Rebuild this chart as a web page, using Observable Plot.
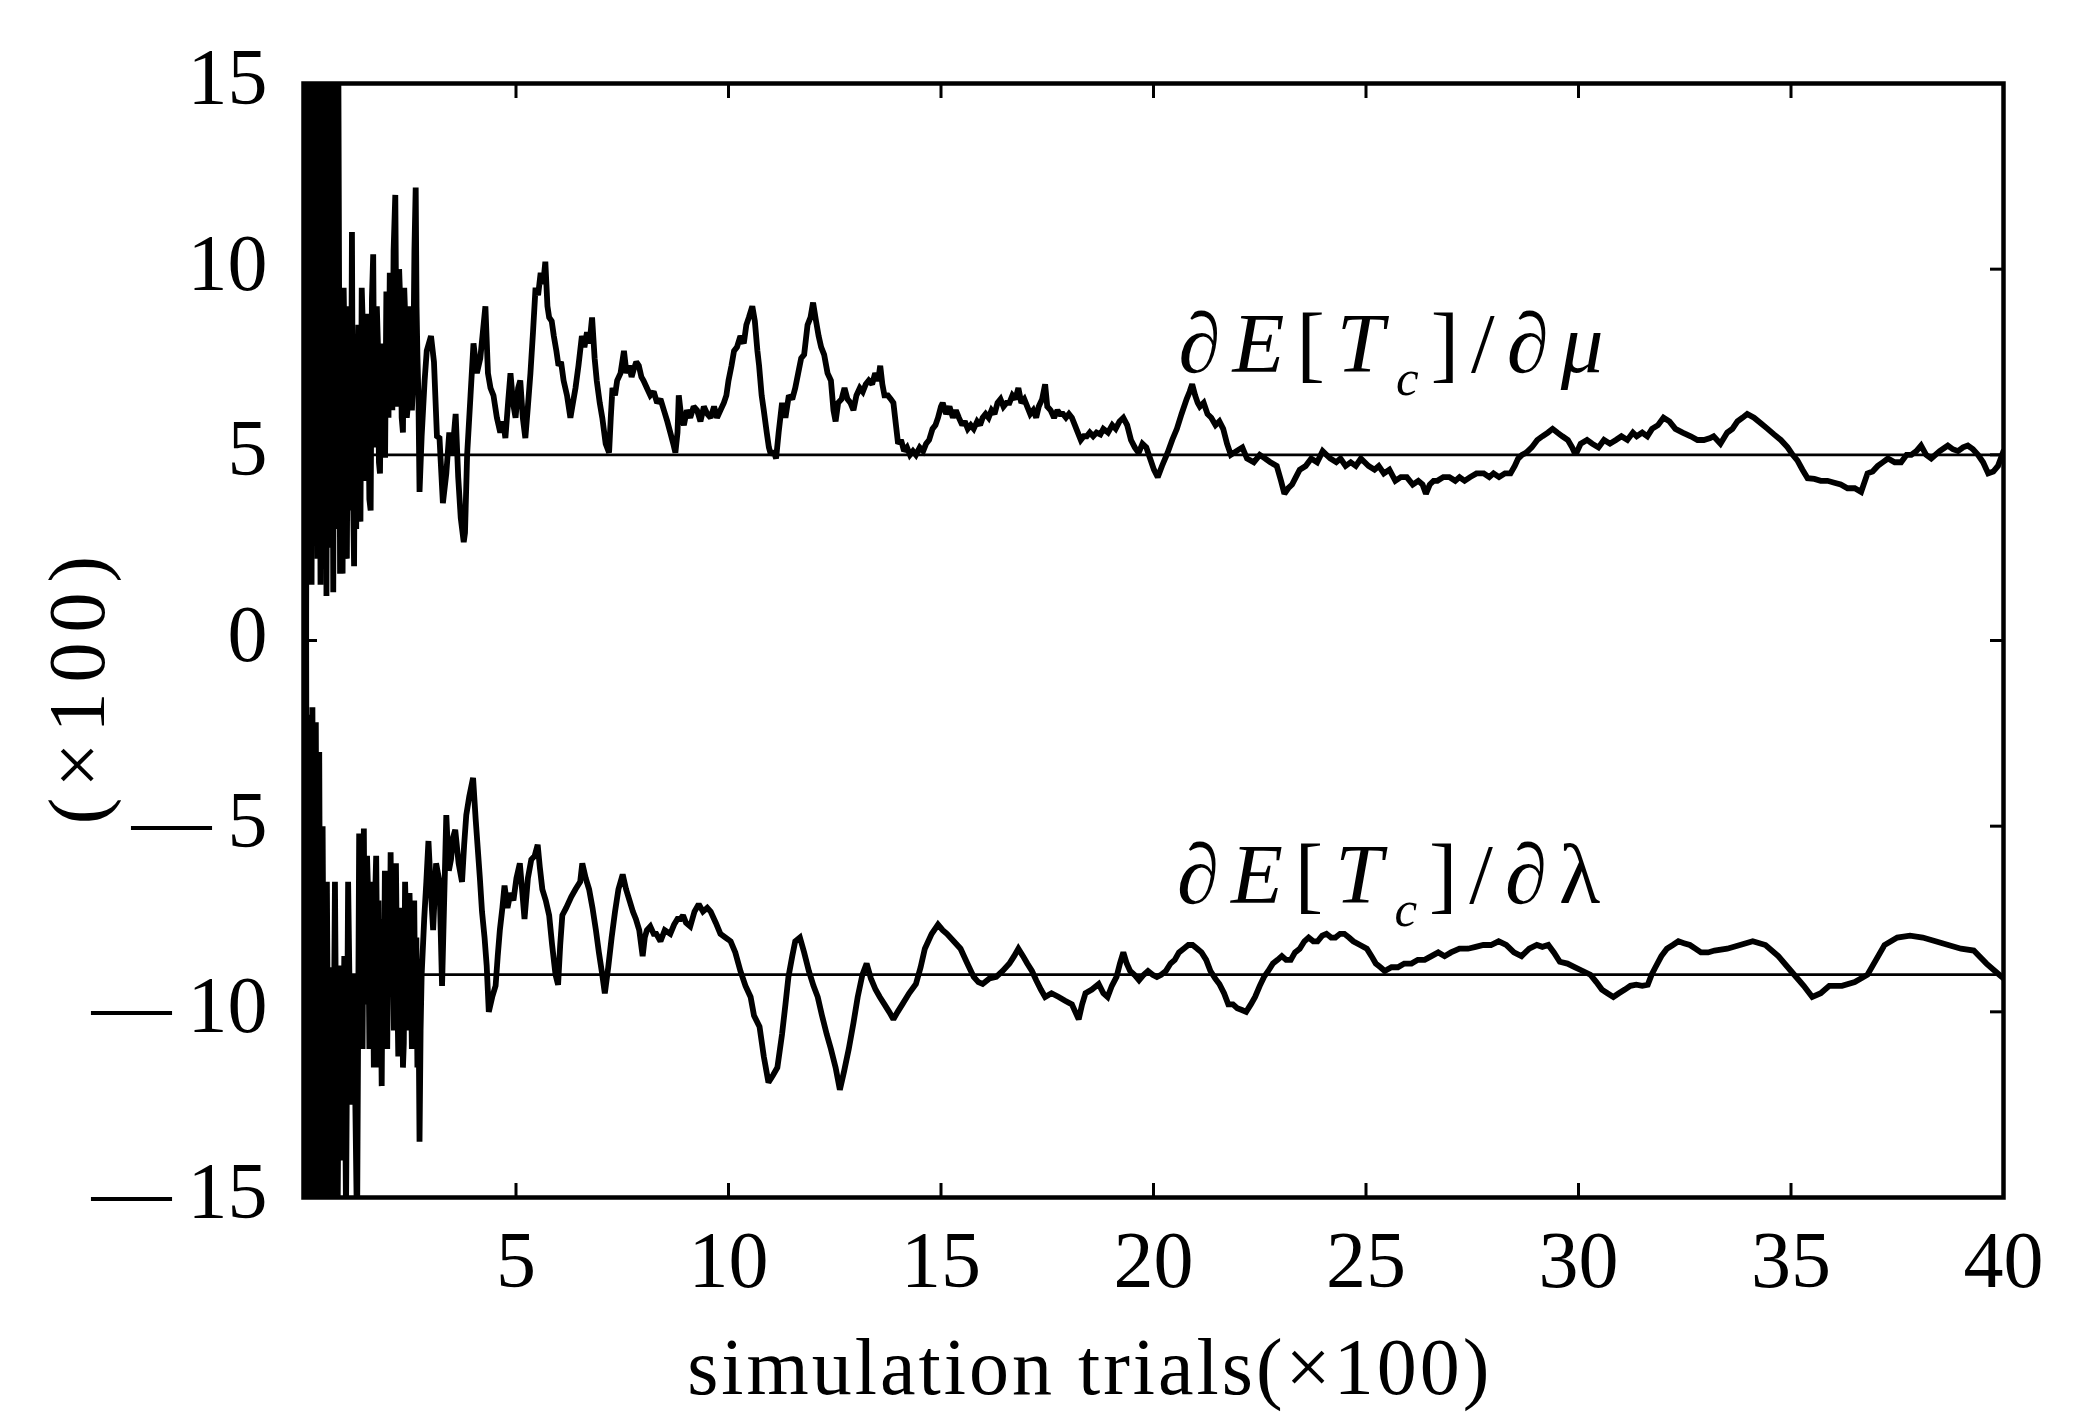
<!DOCTYPE html>
<html><head><meta charset="utf-8">
<script src="https://cdn.jsdelivr.net/npm/d3@7"></script>
<script src="https://cdn.jsdelivr.net/npm/@observablehq/plot@0.6"></script>
<style>
body{margin:0;background:#fff}
.xlab text{letter-spacing:3px}
.ylab text{letter-spacing:10px}
.serlab text{letter-spacing:12px}
</style>
</head><body><div id="chart"></div>
<script>
// dE[Tc]/dmu estimate (x = trials/100, y = value/100)
const muSeries = [[0.00,2.0],[0.03,16],[0.06,-1],[0.09,16.5],[0.12,3],[0.15,15.5],[0.19,1.5],[0.22,16],[0.26,4],[0.29,15.8],[0.33,2.2],[0.36,16],[0.40,1.5],[0.43,14],[0.47,3.5],[0.50,16],[0.54,1.2],[0.58,15.5],[0.62,2.5],[0.66,15.5],[0.70,1.3],[0.74,16],[0.78,3],[0.82,15.5],[0.86,1.8],
[0.88,8.7],[0.9,2.5],[0.92,1.8],[0.945,9.5],[0.97,7.5],[0.995,2.6],[1.02,2.2],[1.05,8.0],[1.08,9.0],[1.11,3.5],[1.14,11.0],[1.165,4.0],[1.19,2.0],[1.215,7.5],[1.24,3.0],[1.265,6.5],[1.29,8.5],[1.315,4.2],[1.34,3.2],[1.37,9.5],[1.40,8.3],[1.43,5.0],[1.46,4.3],[1.49,8.8],[1.52,7.0],[1.55,3.8],[1.58,3.5],[1.61,9.2],[1.64,10.4],[1.67,5.2],[1.70,6.0],[1.725,9.0],[1.75,8.0],[1.775,4.8],[1.80,4.5],[1.83,8.0],[1.86,6.8],[1.89,5.0],[1.92,5.0],[1.95,9.4],[1.98,8.8],[2.0,6.0],[2.03,9.9],[2.06,7.5],[2.09,6.2],[2.12,10.5],[2.16,12.0],[2.19,7.2],[2.22,6.3],[2.25,10.0],[2.28,9.0],[2.31,6.0],[2.34,5.6],[2.37,9.5],[2.40,8.5],[2.43,6.0],[2.46,6.4],[2.49,9.0],[2.52,8.0],[2.55,6.2],[2.58,7.0],[2.61,10.5],[2.64,12.2],[2.66,9.0],[2.68,7.7],[2.705,6.5],[2.73,4.0],[2.78,5.5],[2.85,7.0],[2.9,7.8],[3.0,8.2],[3.07,7.5],[3.14,5.5],[3.2,5.45],[3.28,3.7],[3.36,4.5],[3.43,5.6],[3.5,5.0],[3.58,6.1],[3.64,4.4],[3.70,3.3],[3.77,2.65],[3.80,2.9],[3.85,5.0],[3.93,6.6],[4.0,8.0],[4.08,7.2],[4.16,7.6],[4.22,8.3],[4.28,9.0],[4.34,7.2],[4.4,6.8],[4.47,6.6],[4.55,6.0],[4.63,5.6],[4.7,5.9],[4.75,5.45],[4.82,6.5],[4.87,7.2],[4.93,6.4],[4.99,6.0],[5.05,6.8],[5.1,7.0],[5.16,6.0],[5.22,5.45],[5.28,6.3],[5.34,7.2],[5.4,8.3],[5.46,9.5],[5.52,9.3],[5.58,9.9],[5.64,9.6],[5.69,10.2],[5.74,9.0],[5.78,8.7],[5.84,8.6],[5.89,8.2],[5.95,7.8],[6.0,7.4],[6.06,7.5],[6.12,7.0],[6.2,6.6],[6.28,6.0],[6.34,6.4],[6.4,6.8],[6.47,7.4],[6.55,8.2],[6.61,7.9],[6.67,8.3],[6.73,8.0],[6.79,8.7],[6.85,7.6],[6.9,7.0],[6.97,6.4],[7.03,6.0],[7.11,5.3],[7.19,5.06],[7.23,6.0],[7.27,6.8],[7.33,6.6],[7.38,7.0],[7.46,7.2],[7.54,7.8],[7.6,7.2],[7.66,7.4],[7.72,7.1],[7.77,7.3],[7.83,7.5],[7.89,7.4],[7.95,7.1],[8.0,7.0],[8.08,6.8],[8.16,6.6],[8.24,6.7],[8.32,6.4],[8.4,6.5],[8.48,6.2],[8.56,5.9],[8.63,5.6],[8.7,5.3],[8.75,5.06],[8.8,5.6],[8.83,6.6],[8.89,6.0],[8.95,5.8],[9.02,6.2],[9.1,6.0],[9.18,6.3],[9.26,6.2],[9.34,5.9],[9.42,6.3],[9.5,6.1],[9.58,6.0],[9.66,6.3],[9.73,6.0],[9.81,6.2],[9.89,6.4],[9.95,6.6],[10.0,7.0],[10.07,7.4],[10.13,7.8],[10.2,7.9],[10.28,8.2],[10.36,8.0],[10.42,8.5],[10.48,8.7],[10.56,9.0],[10.62,8.6],[10.68,7.8],[10.72,7.4],[10.78,6.6],[10.83,6.2],[10.9,5.6],[10.95,5.2],[11.0,5.0],[11.06,5.1],[11.12,4.9],[11.18,5.6],[11.26,6.4],[11.34,6.0],[11.42,6.6],[11.5,6.5],[11.57,6.8],[11.64,7.2],[11.71,7.6],[11.78,7.7],[11.86,8.5],[11.93,8.7],[11.99,9.1],[12.06,8.6],[12.12,8.2],[12.18,7.9],[12.25,7.7],[12.33,7.2],[12.41,7.0],[12.47,6.2],[12.52,5.9],[12.58,6.4],[12.66,6.5],[12.73,6.8],[12.8,6.5],[12.87,6.4],[12.94,6.2],[13.01,6.6],[13.09,6.8],[13.16,6.7],[13.23,6.9],[13.3,7.0],[13.38,6.9],[13.45,7.2],[13.52,7.0],[13.57,7.4],[13.62,6.9],[13.67,6.6],[13.75,6.6],[13.82,6.5],[13.88,6.4],[13.94,5.8],[13.99,5.3],[14.06,5.4],[14.13,5.1],[14.2,5.2],[14.27,5.0],[14.34,5.1],[14.41,5.0],[14.5,5.2],[14.58,5.1],[14.65,5.3],[14.72,5.4],[14.8,5.7],[14.87,5.8],[14.93,6.0],[15.0,6.3],[15.04,6.4],[15.12,6.1],[15.2,6.3],[15.28,6.0],[15.35,6.2],[15.42,6.0],[15.5,5.8],[15.56,5.9],[15.63,5.7],[15.7,5.8],[15.77,5.7],[15.85,5.9],[15.92,5.8],[15.98,6.0],[16.05,6.1],[16.12,6.0],[16.19,6.2],[16.26,6.1],[16.33,6.4],[16.4,6.5],[16.47,6.3],[16.54,6.4],[16.61,6.4],[16.68,6.6],[16.75,6.5],[16.82,6.8],[16.89,6.4],[16.96,6.5],[17.03,6.3],[17.1,6.1],[17.17,6.2],[17.24,6.0],[17.3,6.3],[17.38,6.5],[17.45,6.9],[17.5,6.3],[17.58,6.2],[17.66,6.0],[17.74,6.2],[17.8,6.1],[17.87,6.1],[17.94,6.0],[18.01,6.1],[18.08,6.0],[18.15,5.8],[18.22,5.6],[18.29,5.4],[18.36,5.5],[18.43,5.5],[18.5,5.6],[18.58,5.5],[18.66,5.6],[18.75,5.55],[18.82,5.7],[18.93,5.6],[19.03,5.8],[19.11,5.7],[19.2,5.9],[19.29,6.0],[19.38,5.8],[19.47,5.4],[19.56,5.2],[19.65,5.05],[19.74,5.3],[19.83,5.2],[19.92,4.9],[20.01,4.6],[20.1,4.4],[20.2,4.7],[20.33,5.05],[20.44,5.4],[20.55,5.7],[20.66,6.1],[20.78,6.5],[20.85,6.7],[20.91,6.9],[20.98,6.6],[21.04,6.4],[21.09,6.3],[21.18,6.4],[21.27,6.1],[21.36,6.0],[21.46,5.8],[21.55,5.9],[21.64,5.7],[21.73,5.3],[21.82,5.0],[21.95,5.1],[22.09,5.2],[22.2,4.9],[22.36,4.8],[22.5,5.0],[22.63,4.9],[22.75,4.8],[22.9,4.7],[23.0,4.3],[23.08,3.95],[23.17,4.1],[23.26,4.2],[23.35,4.4],[23.44,4.6],[23.58,4.7],[23.71,4.9],[23.85,4.8],[23.98,5.1],[24.07,5.0],[24.16,4.9],[24.3,4.8],[24.4,4.9],[24.52,4.7],[24.64,4.8],[24.76,4.7],[24.88,4.9],[24.97,4.8],[25.06,4.7],[25.2,4.6],[25.3,4.7],[25.42,4.5],[25.55,4.6],[25.69,4.3],[25.82,4.4],[25.96,4.4],[26.1,4.2],[26.23,4.3],[26.33,4.2],[26.41,3.95],[26.5,4.2],[26.59,4.3],[26.68,4.3],[26.82,4.4],[26.96,4.4],[27.1,4.3],[27.2,4.4],[27.32,4.3],[27.45,4.4],[27.6,4.5],[27.77,4.5],[27.9,4.4],[28.0,4.5],[28.13,4.4],[28.27,4.5],[28.4,4.5],[28.5,4.7],[28.58,4.9],[28.67,5.0],[28.76,5.05],[28.9,5.2],[29.03,5.4],[29.15,5.5],[29.28,5.6],[29.39,5.7],[29.5,5.6],[29.62,5.5],[29.75,5.4],[29.85,5.2],[29.93,5.0],[30.05,5.3],[30.2,5.4],[30.32,5.3],[30.47,5.2],[30.6,5.4],[30.74,5.3],[30.88,5.4],[31.01,5.5],[31.15,5.4],[31.28,5.6],[31.37,5.5],[31.5,5.6],[31.62,5.5],[31.73,5.7],[31.87,5.8],[32.0,6.0],[32.14,5.9],[32.28,5.7],[32.45,5.6],[32.64,5.5],[32.8,5.4],[32.95,5.4],[33.1,5.45],[33.18,5.5],[33.34,5.3],[33.5,5.6],[33.62,5.7],[33.74,5.9],[33.86,6.0],[33.97,6.1],[34.13,6.0],[34.29,5.85],[34.45,5.7],[34.6,5.55],[34.76,5.4],[34.92,5.2],[35.04,5.0],[35.15,4.85],[35.27,4.6],[35.39,4.37],[35.55,4.35],[35.7,4.3],[35.86,4.3],[36.02,4.25],[36.17,4.2],[36.33,4.1],[36.5,4.1],[36.65,4.0],[36.8,4.5],[36.92,4.55],[37.04,4.7],[37.16,4.8],[37.28,4.9],[37.44,4.8],[37.59,4.8],[37.72,5.0],[37.83,5.0],[37.95,5.1],[38.06,5.25],[38.18,5.0],[38.3,4.9],[38.5,5.1],[38.69,5.25],[38.81,5.15],[38.93,5.1],[39.05,5.2],[39.16,5.25],[39.28,5.15],[39.4,5.0],[39.52,4.8],[39.64,4.5],[39.76,4.55],[39.87,4.7],[40.0,5.1]];

// dE[Tc]/dlambda estimate
const lamSeries = [[0.0,15.5],[0.03,-16],[0.06,1.5],[0.09,-16],[0.13,-2],[0.17,-16],[0.21,-1.8],[0.25,-15.5],[0.29,-2.2],[0.33,-16],[0.37,-3],[0.41,-15.5],[0.45,-5],[0.5,-16],[0.55,-6.5],[0.6,-15.5],[0.64,-8.8],[0.68,-16],[0.74,-6.5],[0.8,-16],[0.84,-8.75],[0.9,-14],[0.96,-8.5],[1.0,-15.5],[1.05,-6.5],[1.12,-12.5],[1.18,-9],[1.26,-16],[1.31,-5.2],[1.335,-9.5],[1.36,-8.0],[1.39,-11.0],[1.42,-5.06],[1.445,-9.8],[1.47,-8.4],[1.495,-5.8],[1.52,-6.8],[1.55,-11.0],[1.58,-10.2],[1.605,-6.5],[1.63,-8.0],[1.655,-11.5],[1.68,-7.15],[1.71,-5.8],[1.74,-9.5],[1.765,-7.0],[1.79,-11.5],[1.815,-9.0],[1.84,-12.0],[1.865,-7.5],[1.89,-10.0],[1.915,-6.2],[1.94,-9.0],[1.97,-11.0],[2.0,-7.0],[2.025,-9.5],[2.05,-5.7],[2.075,-8.8],[2.1,-7.5],[2.125,-10.5],[2.15,-6.8],[2.175,-6.0],[2.2,-8.8],[2.23,-11.2],[2.26,-10.2],[2.29,-7.2],[2.32,-9.0],[2.34,-11.5],[2.36,-10.85],[2.39,-6.5],[2.42,-7.9],[2.445,-10.5],[2.47,-9.2],[2.495,-6.8],[2.52,-8.2],[2.55,-11.0],[2.58,-9.5],[2.605,-7.0],[2.63,-10.2],[2.655,-8.0],[2.68,-11.5],[2.705,-9.5],[2.73,-13.5],[2.755,-10.5],[2.78,-9.0],[2.84,-7.5],[2.89,-6.5],[2.94,-5.4],[3.0,-6.8],[3.05,-7.8],[3.12,-6.0],[3.2,-6.5],[3.26,-9.3],[3.31,-7.0],[3.36,-4.7],[3.42,-6.2],[3.47,-5.9],[3.52,-5.3],[3.57,-5.1],[3.65,-6.0],[3.73,-6.5],[3.78,-5.5],[3.83,-4.7],[3.9,-4.2],[3.99,-3.7],[4.05,-4.8],[4.1,-5.6],[4.15,-6.4],[4.2,-7.3],[4.26,-8.0],[4.31,-8.75],[4.36,-10.0],[4.44,-9.6],[4.52,-9.3],[4.57,-8.5],[4.62,-7.8],[4.68,-7.2],[4.73,-6.6],[4.8,-7.2],[4.87,-6.8],[4.94,-7.0],[5.01,-6.4],[5.09,-6.0],[5.15,-6.8],[5.2,-7.5],[5.28,-6.4],[5.36,-5.9],[5.44,-5.8],[5.51,-5.5],[5.56,-6.1],[5.62,-6.7],[5.7,-7.0],[5.78,-7.4],[5.85,-8.2],[5.93,-9.0],[5.99,-9.27],[6.04,-8.2],[6.09,-7.4],[6.18,-7.2],[6.3,-6.9],[6.4,-6.7],[6.51,-6.5],[6.56,-6.0],[6.64,-6.4],[6.72,-6.7],[6.8,-7.2],[6.88,-7.8],[6.95,-8.4],[7.03,-9.0],[7.09,-9.5],[7.17,-8.8],[7.25,-8.0],[7.33,-7.3],[7.41,-6.7],[7.51,-6.3],[7.59,-6.7],[7.67,-7.0],[7.75,-7.3],[7.82,-7.5],[7.9,-7.8],[7.98,-8.5],[8.03,-8.0],[8.08,-7.8],[8.16,-7.7],[8.24,-7.9],[8.3,-7.9],[8.4,-8.1],[8.5,-7.8],[8.63,-7.9],[8.72,-7.65],[8.8,-7.5],[8.87,-7.5],[8.93,-7.4],[9.0,-7.6],[9.1,-7.7],[9.2,-7.3],[9.3,-7.1],[9.4,-7.3],[9.5,-7.2],[9.58,-7.3],[9.7,-7.6],[9.81,-7.9],[9.93,-8.0],[10.05,-8.1],[10.16,-8.4],[10.28,-8.9],[10.4,-9.3],[10.52,-9.6],[10.6,-10.1],[10.73,-10.4],[10.83,-11.2],[10.94,-11.9],[11.05,-11.7],[11.15,-11.5],[11.26,-10.6],[11.34,-9.8],[11.41,-9.06],[11.5,-8.5],[11.57,-8.1],[11.68,-8.0],[11.78,-8.4],[11.89,-8.9],[12.0,-9.3],[12.1,-9.6],[12.2,-10.1],[12.31,-10.6],[12.41,-11.0],[12.52,-11.5],[12.62,-12.1],[12.72,-11.6],[12.83,-11.0],[12.94,-10.3],[13.04,-9.6],[13.15,-9.0],[13.25,-8.7],[13.35,-9.1],[13.46,-9.4],[13.56,-9.6],[13.67,-9.8],[13.78,-10.0],[13.88,-10.2],[13.98,-10.0],[14.09,-9.8],[14.25,-9.5],[14.41,-9.25],[14.52,-8.8],[14.62,-8.3],[14.78,-7.9],[14.93,-7.65],[15.04,-7.8],[15.14,-7.9],[15.3,-8.1],[15.46,-8.3],[15.62,-8.7],[15.77,-9.06],[15.88,-9.2],[15.98,-9.25],[16.14,-9.1],[16.3,-9.06],[16.45,-8.9],[16.61,-8.7],[16.72,-8.5],[16.82,-8.3],[16.93,-8.5],[17.03,-8.7],[17.14,-8.9],[17.24,-9.15],[17.35,-9.4],[17.45,-9.6],[17.6,-9.5],[17.77,-9.6],[17.92,-9.7],[18.08,-9.8],[18.16,-10.0],[18.24,-10.2],[18.32,-9.8],[18.4,-9.5],[18.55,-9.4],[18.71,-9.25],[18.82,-9.5],[18.92,-9.6],[19.02,-9.3],[19.13,-9.06],[19.21,-8.7],[19.29,-8.4],[19.37,-8.7],[19.45,-8.9],[19.55,-9.0],[19.66,-9.15],[19.77,-9.0],[19.87,-8.9],[19.98,-9.0],[20.08,-9.06],[20.18,-9.0],[20.29,-8.9],[20.4,-8.7],[20.5,-8.6],[20.6,-8.4],[20.71,-8.3],[20.82,-8.2],[20.92,-8.2],[21.03,-8.3],[21.13,-8.4],[21.24,-8.6],[21.34,-8.9],[21.45,-9.1],[21.55,-9.25],[21.66,-9.5],[21.76,-9.8],[21.87,-9.8],[21.97,-9.9],[22.08,-9.95],[22.18,-10.0],[22.29,-9.8],[22.39,-9.6],[22.5,-9.3],[22.6,-9.06],[22.7,-8.9],[22.81,-8.7],[22.92,-8.6],[23.02,-8.5],[23.12,-8.6],[23.23,-8.6],[23.33,-8.4],[23.44,-8.3],[23.55,-8.1],[23.65,-8.0],[23.76,-8.1],[23.86,-8.1],[23.97,-7.95],[24.07,-7.9],[24.18,-8.0],[24.28,-8.0],[24.39,-7.9],[24.49,-7.9],[24.6,-8.0],[24.7,-8.1],[24.86,-8.2],[25.02,-8.3],[25.13,-8.5],[25.23,-8.7],[25.34,-8.8],[25.44,-8.9],[25.6,-8.8],[25.75,-8.8],[25.9,-8.7],[26.07,-8.7],[26.22,-8.6],[26.38,-8.6],[26.54,-8.5],[26.7,-8.4],[26.85,-8.5],[27.0,-8.4],[27.2,-8.3],[27.4,-8.3],[27.58,-8.25],[27.76,-8.2],[27.94,-8.2],[28.12,-8.1],[28.3,-8.2],[28.48,-8.4],[28.66,-8.5],[28.84,-8.3],[29.02,-8.2],[29.15,-8.25],[29.29,-8.2],[29.42,-8.4],[29.56,-8.65],[29.74,-8.7],[29.92,-8.8],[30.1,-8.9],[30.28,-9.0],[30.42,-9.2],[30.55,-9.4],[30.68,-9.5],[30.82,-9.6],[30.95,-9.5],[31.09,-9.4],[31.22,-9.3],[31.36,-9.27],[31.5,-9.3],[31.63,-9.27],[31.72,-9.0],[31.81,-8.8],[31.95,-8.5],[32.08,-8.3],[32.22,-8.2],[32.35,-8.1],[32.48,-8.15],[32.62,-8.2],[32.75,-8.3],[32.88,-8.4],[33.05,-8.4],[33.2,-8.35],[33.5,-8.3],[33.8,-8.2],[34.1,-8.1],[34.4,-8.2],[34.7,-8.5],[35.0,-8.9],[35.3,-9.3],[35.5,-9.6],[35.7,-9.5],[35.9,-9.3],[36.2,-9.3],[36.5,-9.2],[36.8,-9.0],[37.0,-8.6],[37.2,-8.2],[37.5,-8.0],[37.8,-7.95],[38.1,-8.0],[38.4,-8.1],[38.7,-8.2],[39.0,-8.3],[39.3,-8.35],[39.6,-8.7],[39.9,-9.0],[40.0,-9.1]];

// reference (true) values
const refValues = [5, -9];
const xTicks = [5, 10, 15, 20, 25, 30, 35, 40];
const yTicks = [-15, -10, -5, 0, 5, 10, 15];
const xLabel = "simulation trials(×100)";
const yLabel = "(×100)";
const seriesLabels = [
  {key: "mu", x: 20.59, y: 7.22},
  {key: "lambda", x: 20.55, y: -7.06}
];

const noText = () => "";
const svg = Plot.plot({
  width: 2093, height: 1415,
  marginLeft: 303, marginRight: 90, marginTop: 83, marginBottom: 218,
  style: {fontFamily: "'Liberation Serif', serif", background: "#fff", color: "#000"},
  x: {domain: [0, 40], label: null},
  y: {domain: [-15, 15], label: null},
  marks: [
    Plot.ruleY(refValues, {stroke: "#000", strokeWidth: 2.8}),
    Plot.line(muSeries, {x: d => d[0], y: d => d[1], stroke: "#000", strokeWidth: 5.8, strokeLinejoin: "miter", strokeMiterlimit: 2, clip: true}),
    Plot.line(lamSeries, {x: d => d[0], y: d => d[1], stroke: "#000", strokeWidth: 5.8, strokeLinejoin: "miter", strokeMiterlimit: 2, clip: true}),
    Plot.frame({stroke: "#000", strokeWidth: 4.5}),
    Plot.axisX(xTicks, {anchor: "bottom", tickSize: -14, strokeWidth: 3, tickFormat: noText, label: null}),
    Plot.axisX(xTicks, {anchor: "top", tickSize: -14, strokeWidth: 3, tickFormat: noText, label: null}),
    Plot.axisY(yTicks, {anchor: "left", tickSize: -14, strokeWidth: 3, tickFormat: noText, label: null}),
    Plot.axisY(yTicks, {anchor: "right", tickSize: -14, strokeWidth: 3, tickFormat: noText, label: null}),
    Plot.axisX(xTicks, {anchor: "bottom", tickSize: 0, tickPadding: 33, fontSize: 80, tickFormat: d => String(d), label: null}),
    Plot.axisY(yTicks, {anchor: "left", tickSize: 0, tickPadding: 36, dy: -5, fontSize: 80, label: null,
      tickFormat: d => d < 0 ? "\u2014\u2009" + (-d) : String(d)}),
    Plot.text([xLabel], {text: d => d, frameAnchor: "bottom", x: 18.5, dy: 196, textAnchor: "middle", lineAnchor: "bottom", fontSize: 80, className: "xlab"}),
    Plot.text([yLabel], {text: d => d, frameAnchor: "left", y: -1.2, dx: -225, rotate: -90, textAnchor: "middle", lineAnchor: "middle", fontSize: 80, className: "ylab"}),
    Plot.text(seriesLabels, {x: "x", y: "y", text: "key", textAnchor: "start", lineAnchor: "bottom", fontSize: 85, className: "serlab"})
  ]
});
document.getElementById("chart").append(svg);

// rich text for series labels
const rich = {
  mu: '<tspan>∂</tspan><tspan font-style="italic">E</tspan><tspan>[</tspan><tspan font-style="italic">T</tspan><tspan font-style="italic" font-size="0.6em" dy="0.45em">c</tspan><tspan dy="-0.27em">]/∂</tspan><tspan font-style="italic">μ</tspan>',
  lambda: '<tspan>∂</tspan><tspan font-style="italic">E</tspan><tspan>[</tspan><tspan font-style="italic">T</tspan><tspan font-style="italic" font-size="0.6em" dy="0.45em">c</tspan><tspan dy="-0.27em">]/∂</tspan><tspan>λ</tspan>'
};
d3.select(svg).selectAll(".serlab text").each(function () {
  const k = this.textContent;
  if (rich[k]) this.innerHTML = rich[k];
});
</script>
</body></html>
